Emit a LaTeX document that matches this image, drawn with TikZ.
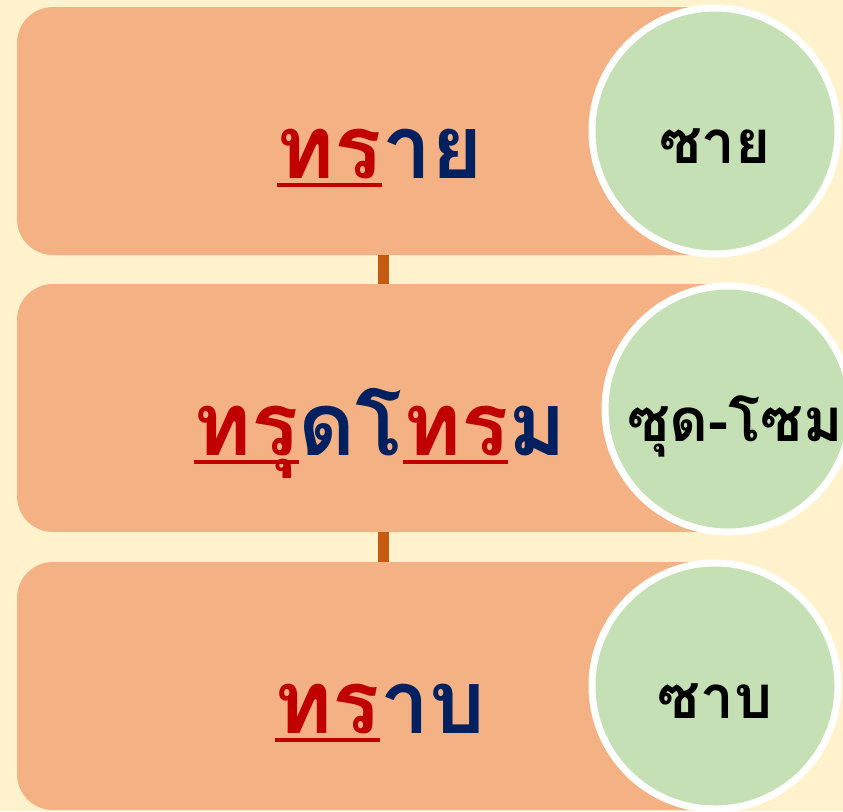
\documentclass[tikz,border=0pt]{standalone}
\usepackage{fontspec}
\newfontfamily\thaifont[Script=Thai]{Loma}

\definecolor{bgyellow}{HTML}{FFF2CC}
\definecolor{boxorange}{HTML}{F4B183}
\definecolor{circgreen}{HTML}{C5E0B4}
\definecolor{linkbrown}{HTML}{C55A11}
\definecolor{thred}{HTML}{C00000}
\definecolor{thblue}{HTML}{002060}

% red underline under the part that is read as "s"
\newcommand\redul[1]{\setbox0\hbox{#1}\rlap{\rule[-9pt]{\wd0}{4.5pt}}\box0}

\begin{document}
\begin{tikzpicture}[x=1pt,y=-1pt,
    wordbox/.style={fill=boxorange, rounded corners=36pt,
        minimum width=726pt, minimum height=248pt,
        text height=100pt, text depth=6pt,
        font=\thaifont\bfseries\fontsize{88}{100}\selectfont},
    readcircle/.style={circle, fill=circgreen, draw=white, line width=7pt,
        minimum size=246pt, inner sep=0pt,
        text height=70pt, text depth=6pt,
        font=\thaifont\bfseries\fontsize{60}{70}\selectfont},
    link/.style={draw=linkbrown, line width=11pt}]

\fill[bgyellow] (0,0) rectangle (843,811);
\useasboundingbox (0,0) rectangle (843,811);

\node[wordbox] (word1) at (380,131)
    {{\color{thred}\redul{ทร}}{\color{thblue}าย}};
\node[readcircle] (read1) at (715,131) {ซาย};

\node[wordbox] (word2) at (380,408)
    {{\color{thred}\redul{ทรุ}}{\color{thblue}ดโ}{\color{thred}\redul{ทร}}{\color{thblue}ม}};
\node[readcircle] (read2) at (728,409) {\hspace*{14pt}ซุด-โซม};

\node[wordbox] (word3) at (380,686)
    {{\color{thred}\redul{ทร}}{\color{thblue}าบ}};
\node[readcircle] (read3) at (715,686) {ซาบ};

\draw[link] ([xshift=3pt]word1.south) -- ([xshift=3pt]word2.north);
\draw[link] ([xshift=3pt]word2.south) -- ([xshift=3pt]word3.north);

\end{tikzpicture}
\end{document}
